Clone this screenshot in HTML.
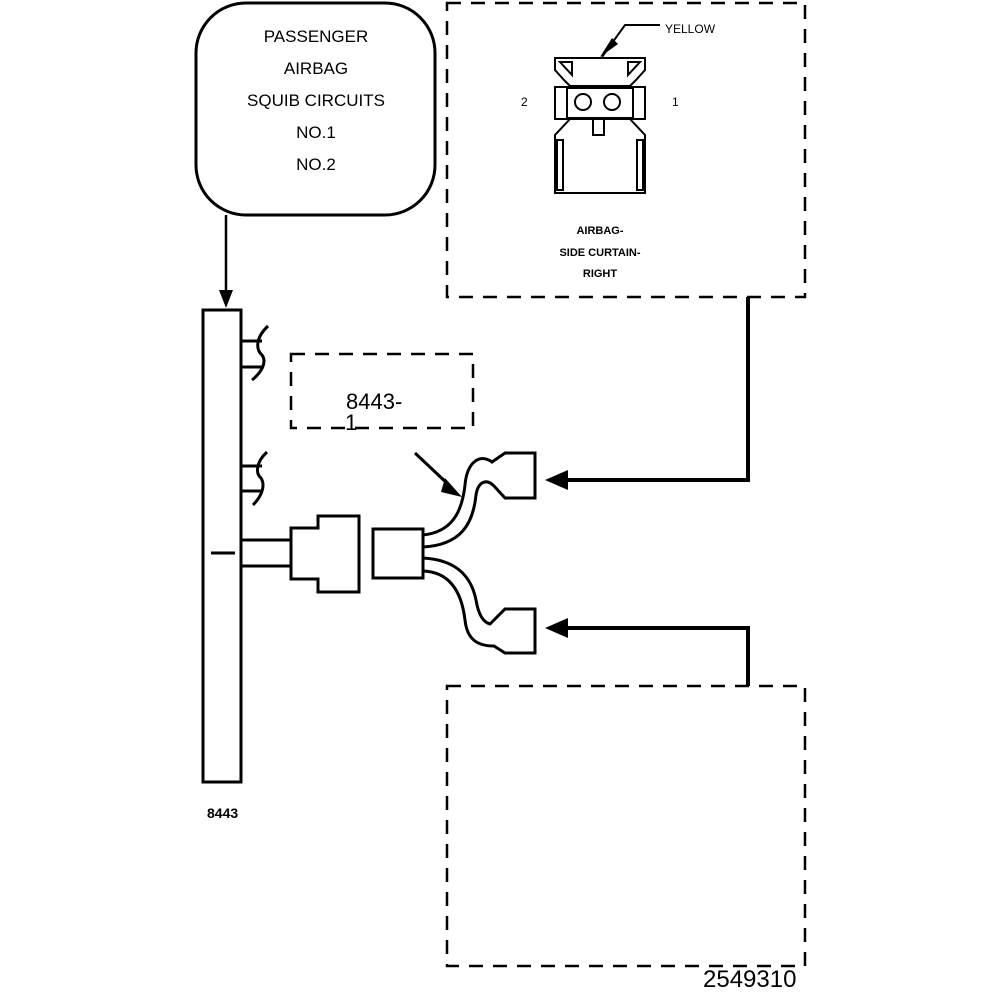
<!DOCTYPE html>
<html><head><style>body{margin:0;background:#fff}svg{display:block}</style></head><body>
<svg width="1008" height="1000" viewBox="0 0 1008 1000" xmlns="http://www.w3.org/2000/svg" font-family="Liberation Sans, sans-serif">
<g fill="none" stroke="#000" stroke-width="3">
<rect x="196" y="3" width="239" height="212" rx="50"/>
<line x1="226" y1="215" x2="226" y2="295" stroke-width="2.5"/>
<rect x="203" y="310" width="38" height="472"/>
<line x1="241" y1="341" x2="262" y2="341"/><line x1="241" y1="367" x2="262" y2="367"/>
<path d="M268,326 C255,338 256,350 262,355 C267,362 262,372 252,380"/>
<line x1="241" y1="466" x2="262" y2="466"/><line x1="241" y1="491" x2="262" y2="491"/>
<path d="M267,452 C255,463 256,474 261,478 C266,486 261,497 253,505"/>
<line x1="211" y1="553" x2="235" y2="553"/>
<line x1="241" y1="540" x2="291" y2="540"/><line x1="241" y1="566" x2="291" y2="566"/>
<path d="M291,528 L318,528 L318,516 L359,516 L359,592 L318,592 L318,579 L291,579 Z"/>
<rect x="373" y="529" width="50" height="49"/>
<path d="M423,535 C452,532 462,512 465,485 C467,462 480,453 492,462 L505,453 L535,453 L535,498 L505,498 L494,486 C486,478 478,482 476,495 C473,525 460,545 423,547"/>
<path d="M423,558 C460,560 472,580 476,600 C478,612 482,622 490,624 L505,609 L535,609 L535,653 L505,653 L494,646 C478,646 467,640 465,620 C462,595 452,572 423,571"/>
<line x1="415" y1="453" x2="450" y2="486"/>
<g stroke-dasharray="14,10" stroke-width="2.5">
<rect x="447" y="3" width="358" height="294"/>
<rect x="447" y="686" width="358" height="280"/>
<rect x="291" y="354" width="182" height="74"/>
</g>
<path d="M748,297 L748,480 L565,480" stroke-width="4"/>
<path d="M748,686 L748,628 L565,628" stroke-width="4"/>
<g stroke-width="2">
<path d="M555,58 L645,58 L645,70 L636,80 L630,86 L570,86 L564,80 L555,70 Z"/>
<path d="M560,62 L572,62 L572,75 Z M640,62 L628,62 L628,75 Z"/>
<rect x="555" y="87" width="90" height="32"/>
<rect x="567" y="88" width="66" height="30"/>
<circle cx="583" cy="102" r="8"/><circle cx="612" cy="102" r="8"/>
<path d="M570,119 L555,135 L555,193 L645,193 L645,135 L630,119"/>
<path d="M593,119 L593,135 L604,135 L604,119"/>
<rect x="557" y="140" width="6" height="50"/><rect x="637" y="140" width="6" height="50"/>
<path d="M602,57 L625,25 L660,25"/>
</g>
</g>
<g fill="#000">
<polygon points="219,290 233,290 226,308"/>
<polygon points="445,478 462,497 441,492"/>
<polygon points="545,480 568,470 568,490"/>
<polygon points="545,628 568,618 568,638"/>
<polygon points="600,57 612,38 618,44"/>
</g>
<g font-size="17" text-anchor="middle">
<text x="316" y="42">PASSENGER</text>
<text x="316" y="74">AIRBAG</text>
<text x="316" y="106">SQUIB CIRCUITS</text>
<text x="316" y="138">NO.1</text>
<text x="316" y="170">NO.2</text>
</g>
<text x="665" y="33" font-size="12">YELLOW</text>
<text x="521" y="106" font-size="12">2</text>
<text x="672" y="106" font-size="12">1</text>
<g font-size="11" font-weight="bold" text-anchor="middle">
<text x="600" y="234">AIRBAG-</text>
<text x="600" y="256">SIDE CURTAIN-</text>
<text x="600" y="277">RIGHT</text>
</g>
<text x="346" y="409" font-size="22">8443-</text>
<text x="345" y="430" font-size="22">1</text>
<text x="207" y="818" font-size="14" font-weight="bold">8443</text>
<text x="703" y="987" font-size="24">2549310</text>
</svg>
</body></html>
